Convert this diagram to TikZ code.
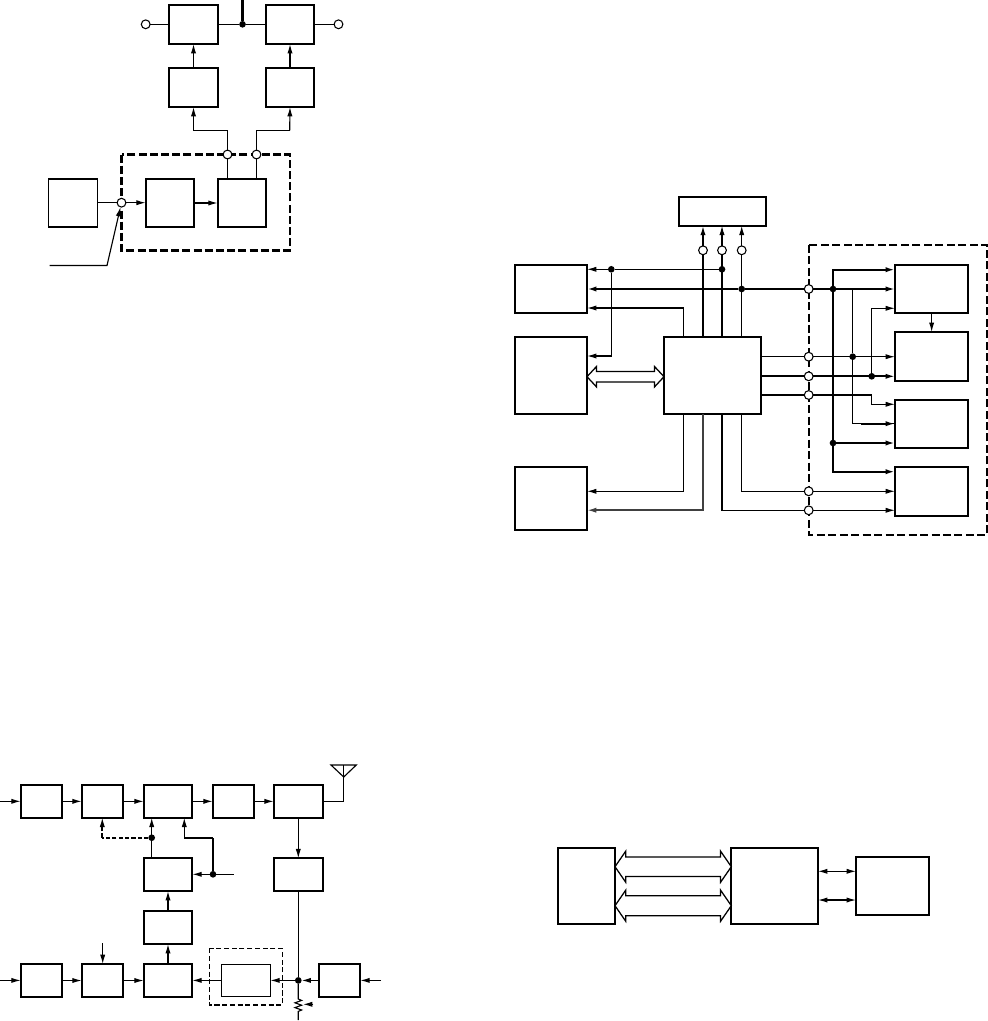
\documentclass[tikz,border=0pt]{standalone}
\usetikzlibrary{arrows.meta,calc}
\tikzset{
  box/.style={draw,rectangle,inner sep=0pt,outer sep=0pt,line width=1.3pt},
  heavybox/.style={box,line width=1.8pt},
  lightbox/.style={box,line width=1pt},
  ring/.style={draw,circle,fill=white,inner sep=0pt,outer sep=0pt,minimum size=6.6pt,line width=.8pt},
  dot/.style={fill=black,circle,inner sep=0pt,outer sep=0pt,minimum size=5pt},
  wire/.style={line width=.85pt},
  bus/.style={line width=1.6pt},
  midwire/.style={line width=1.25pt},
  arr/.style={-{Latex[length=7pt,width=3.9pt]}},
  twoarr/.style={{Latex[length=7pt,width=3.9pt]}-{Latex[length=7pt,width=3.9pt]}},
  dashbox/.style={draw,dash pattern=on 6pt off 2.6pt,line width=1.3pt},
  dashboxthick/.style={draw,dash pattern=on 6pt off 2.4pt,line width=1.8pt},
  dashboxthin/.style={draw,dash pattern=on 3.8pt off 2pt,line width=.8pt},
  dashwire/.style={dash pattern=on 3.2pt off 1.6pt,line width=1.4pt},
  hollow/.style={draw,fill=white,line width=.95pt,line join=miter}
}
\newcommand\bx[6][]{\node[box,#1,minimum width={(#5-#3)*.75pt},minimum height={(#6-#4)*.75pt}] (#2) at ({(#3+#5)/2},{(#4+#6)/2}) {};}
% #1,#2 tips (same y); #3 half shaft; #4 half head; #5 head length (picture units)
\newcommand\hollowarrow[5]{\draw[hollow] (#1) -- ($(#1)+(#5,-#4)$) -- ($(#1)+(#5,-#3)$) -- ($(#2)+(-#5,-#3)$) -- ($(#2)+(-#5,-#4)$) -- (#2) -- ($(#2)+(-#5,#4)$) -- ($(#2)+(-#5,#3)$) -- ($(#1)+(#5,#3)$) -- ($(#1)+(#5,#4)$) -- cycle;}
\begin{document}
\begin{tikzpicture}[x=.75pt,y=-.75pt]
\useasboundingbox (0,0) rectangle (988,1021);

% ---------- figure 1 (top left)
\draw[dashboxthick] (121.5,154.5) rectangle (290,250.5);
\bx[heavybox]{A}{169}{5}{218}{44}
\bx{B}{266}{5}{314}{44}
\bx[heavybox]{C}{169}{68}{218}{107}
\bx{D}{266}{68}{314}{107}
\bx{E}{48.5}{179}{97.5}{227}
\bx{F}{145.7}{179}{194.3}{227}
\bx{G}{217.7}{179}{266}{227}
\node[ring] (aL) at (145.7,24.3) {};
\node[ring] (aR) at (338.5,24.3) {};
\node[dot] (aD) at (242.5,24.3) {};
\node[ring] (aP) at (227.5,154.5) {};
\node[ring] (aQ) at (256.5,154.5) {};
\node[ring] (aS) at (121.5,202.7) {};
\coordinate (aTop) at (242.5,0);
\coordinate (aK1) at (193.5,130.3);
\coordinate (aK2) at (289.7,130.3);
\coordinate (aL0) at (49.5,265.5);
\coordinate (aL1) at (107,265.5);
\draw[wire] (aL) -- (A.west |- aL);
\draw[wire] (A.east |- aD) -- (aD) -- (B.west |- aD);
\draw[wire] (B.east |- aR) -- (aR);
\draw[bus] (aD) -- (aTop);
\draw[wire,arr] (C.north) -- (A.south);
\draw[wire,arr] (D.north) -- (B.south);
\draw[wire] (G.north -| aP) -- (aP);
\draw[midwire] (G.north -| aQ) -- (aQ);
\draw[wire,arr] (aP) |- (aK1) -- (C.south);
\draw[wire] (aQ) |- (aK2);
\draw[wire,arr] (aK2) -- (D.south);
\draw[midwire] (aQ) -- (aQ |- aK2);
\draw[wire] (E.east |- aS) -- (aS);
\draw[wire,arr] (aS) -- (F.west |- aS);
\draw[wire,arr] (F.east) -- (G.west);
\draw[wire,arr] (aL0) -- (aL1) -- (aS);

% ---------- figure 2 (right)
\draw[dashbox] (808.7,244.7) rectangle (987.3,534.7);
\bx[heavybox]{Top}{679}{196.7}{766}{225.7}
\bx{Main}{664}{336.7}{761}{413.7}
\bx{LA}{515}{265}{587}{312.7}
\bx{LB}{515}{336.7}{587}{413.7}
\bx{LC}{515}{466.7}{587}{530}
\bx{RA}{895}{265}{968.3}{313}
\bx{RB}{895}{332}{968.3}{380.7}
\bx{RC}{895}{400}{968.3}{447.7}
\bx{RD}{895}{467}{968.3}{515.7}
\node[ring] (t1) at (703,250.3) {};
\node[ring] (t2) at (722,250.3) {};
\node[ring] (t3) at (741.7,250.3) {};
\node[ring] (c1) at (808.7,289) {};
\node[ring] (c2) at (808.7,356.7) {};
\node[ring] (c3) at (808.7,376.3) {};
\node[ring] (c4) at (808.7,395) {};
\node[ring] (c5) at (808.7,491.3) {};
\node[ring] (c6) at (808.7,510.3) {};
\node[dot] (d1) at (611.3,269.3) {};
\node[dot] (d2) at (722,269.3) {};
\node[dot] (d3) at (741.7,289) {};
\node[dot] (d4) at (833,289) {};
\node[dot] (d5) at (833,443) {};
\node[dot] (d6) at (852.7,356.7) {};
\node[dot] (d7) at (871.7,376.3) {};
\coordinate (yA) at (0,269.7);
\coordinate (yB) at (0,471.7);
\coordinate (yC) at (0,423.7);
\coordinate (yD) at (0,308.3);
\coordinate (yE) at (0,404.3);
\coordinate (yF) at (0,308);
\coordinate (yG) at (0,356);
\coordinate (yH) at (0,491.3);
\coordinate (yI) at (0,510.2);
\coordinate (xA) at (683.3,0);
\coordinate (dbY) at (0,376.7);
% up to the top box
\draw[bus] (Main.north -| t1) -- (t1);
\draw[wire] (Main.north -| t2) -- (t2);
\draw[wire] (Main.north -| t3) -- (t3);
\draw[midwire,arr] (t1) -- (Top.south -| t1);
\draw[wire,arr] (t2) -- (Top.south -| t2);
\draw[wire,arr] (t3) -- (Top.south -| t3);
% to left boxes
\draw[wire,arr] (d2) -- (d1) -- (LA.east |- d1);
\draw[wire,arr] (d1) |- (LB.east |- yG);
\draw[bus,arr] (c1) -- (d3) -- (LA.east |- d3);
\draw[wire,arr] (Main.north -| xA) |- (LA.east |- yF);
\hollowarrow{LB.east |- dbY}{Main.west |- dbY}{5.2}{10.2}{9.5}
\draw[wire,arr] (Main.south -| xA) |- (LC.east |- yH);
\draw[midwire,arr,black!75] (Main.south -| t1) |- (LC.east |- yI);
\draw[wire] (Main.south -| t2) |- (c6);
\draw[wire] (Main.south -| t3) |- (c5);
\draw[wire,arr] (c5) -- (RD.west |- c5);
\draw[wire,arr] (c6) -- (RD.west |- c6);
% right side
\draw[bus] (c1) -- (d4);
\draw[wire] (Main.east |- c2) -- (c2);
\draw[midwire] (Main.east |- c3) -- (c3);
\draw[midwire] (Main.east |- c4) -- (c4);
\draw[bus,arr] (d4) |- (RA.west |- yA);
\draw[bus,arr] (d4) |- (RD.west |- yB);
\draw[bus,arr] (d5) -- (RC.west |- d5);
\draw[midwire,arr] (d4) -- (RA.west |- d4);
\draw[wire] (d4 -| d6) -- (d6);
\draw[wire,arr] (c2) -- (RB.west |- c2);
\draw[wire] (d6) |- (RC.west |- yC);
\draw[midwire,arr] ($(d6 |- yC)+(8,0)$) -- (RC.west |- yC);
\draw[midwire,arr] (c3) -- (RB.west |- c3);
\draw[wire,arr] (d7) |- (RA.west |- yD);
\draw[midwire] (c4) -- (c4 -| d7);
\draw[wire,arr] (c4 -| d7) |- (RC.west |- yE);
\draw[wire,arr] (RA.south) -- (RB.north);

% ---------- figure 3 (bottom left)
\draw[dashboxthin] (209.3,948.3) rectangle (282.3,1005);
\bx{P1}{20.7}{785}{62.3}{817.7}
\bx{P2}{81.7}{785}{123.3}{817.7}
\bx{P3}{143.7}{785}{192.3}{817.7}
\bx{P4}{212.7}{785}{254.3}{817.7}
\bx{P5}{273.7}{785}{323.3}{817.7}
\bx{Q3}{143.7}{858.3}{192.3}{891}
\bx{Q5}{273.7}{858.3}{323.3}{891}
\bx{V3}{143.7}{910.7}{192.3}{944}
\bx{S1}{20.7}{964}{62.3}{997}
\bx{S2}{81.7}{964}{123.3}{997}
\bx{S3}{143.7}{964}{192.3}{997}
\bx[lightbox]{S4}{221.3}{964.3}{270.3}{996.7}
\bx{S5}{318.7}{964}{360.3}{997}
\node[dot] (e1) at (151.7,837.7) {};
\node[dot] (e2) at (213,874.3) {};
\node[dot] (e3) at (298.3,980.4) {};
\coordinate (in1) at (0,801.3);
\coordinate (in2) at (0,980.4);
\coordinate (in3) at (381,980.4);
\coordinate (in4) at (102.7,943.3);
\coordinate (in5) at (233.7,874.3);
\coordinate (e4) at (102.3,837.7);
\coordinate (e5) at (184.3,837.7);
\coordinate (ant) at (343.7,765);
\coordinate (antB) at (343.7,777);
\coordinate (antL) at (331,765);
\coordinate (antR) at (356.3,765);
\coordinate (z0) at (298.3,999);
\coordinate (z1) at (298.3,1020);
\coordinate (zA) at (313.3,1004.3);
\coordinate (zB) at (303,1004.3);
\draw[wire,arr] (in1) -- (P1.west |- in1);
\draw[wire,arr] (P1.east) -- (P2.west);
\draw[wire,arr] (P2.east) -- (P3.west);
\draw[wire,arr] (P3.east) -- (P4.west);
\draw[wire,arr] (P4.east) -- (P5.west);
\draw[wire] (antL) -- (antR) -- (antB) -- cycle;
\draw[wire] (P5.east) -| (ant);
\draw[wire,arr] (P5.south -| e3) -- (Q5.north -| e3);
\draw[wire] (Q5.south -| e3) -- (e3);
\draw[wire,arr] (Q3.north -| e1) -- (P3.south -| e1);
\draw[dashwire] (e1) -- (e4);
\draw[dashwire] (e4) -- ($(P2.south -| e4)+(0,8)$);
\draw[wire,arr] ($(P2.south -| e4)+(0,9)$) -- (P2.south -| e4);
\draw[wire] (e2) -- (e2 |- e5);
\draw[midwire] (e2 |- e5) -- (e5);
\draw[wire,arr] (e5) -- (P3.south -| e5);
\draw[wire,arr] (in5) -- (Q3.east |- in5);
\draw[wire,arr] (V3.north) -- (Q3.south);
\draw[wire,arr] (S3.north) -- (V3.south);
\draw[wire,arr] (in2) -- (S1.west |- in2);
\draw[wire,arr] (S1.east) -- (S2.west);
\draw[wire,arr] (S2.east) -- (S3.west);
\draw[wire,arr] (in4) -- (S2.north -| in4);
\draw[wire,arr] (S4.west |- e3) -- (S3.east |- e3);
\draw[wire,arr] (e3) -- (S4.east |- e3);
\draw[wire,arr] (S5.west |- e3) -- (e3);
\draw[wire,arr] (in3) -- (S5.east |- in3);
\draw[wire] (e3) -- (z0) -- ++(3.3,1.4) -- ++(-6.6,2.4) -- ++(6.6,2.4) -- ++(-6.6,2.4) -- ++(6.6,2.4) -- ++(-3.3,1.4) -- (z1);
\draw[wire,arr] (zA) -- (zB);

% ---------- figure 4 (bottom right)
\bx{W1}{558}{848}{615}{924}
\bx{W2}{731.3}{848}{818}{924}
\bx{W3}{856}{856.7}{929.3}{915}
\coordinate (wT) at (0,866.7);
\coordinate (wB) at (0,905.7);
\coordinate (wS) at (0,871.3);
\coordinate (wU) at (0,900);
\hollowarrow{W1.east |- wT}{W2.west |- wT}{9.7}{15.5}{10.7}
\hollowarrow{W1.east |- wB}{W2.west |- wB}{10}{15.5}{10.7}
\draw[wire,twoarr] (W2.east |- wS) -- (W3.west |- wS);
\draw[wire,twoarr] (W2.east |- wU) -- (W3.west |- wU);
\end{tikzpicture}
\end{document}
